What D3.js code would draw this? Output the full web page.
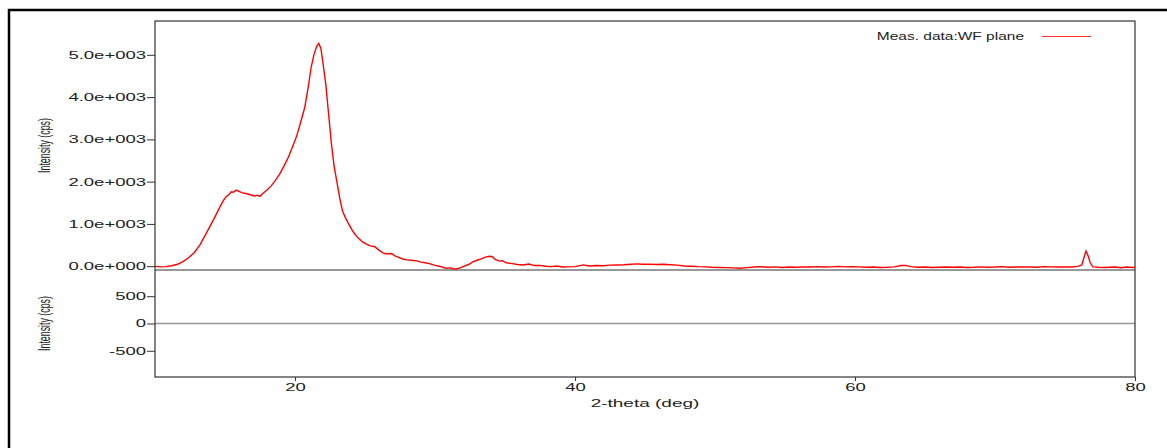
<!DOCTYPE html>
<html>
<head>
<meta charset="utf-8">
<script src="https://cdn.jsdelivr.net/npm/d3@7"></script>
<style>
  body { margin: 0; background: #fff; }
  text { font-family: "Liberation Sans", Arial, sans-serif; fill: #222; }
</style>
</head>
<body>
<div id="chart"></div>
<script>
// Measured XRD pattern (2-theta in deg, intensity in cps)
var twoTheta = [
  10.0, 10.4, 10.8, 11.2, 11.6, 12.0, 12.4, 12.8, 13.2, 13.6, 14.0, 14.3, 14.6, 14.9,
  15.1, 15.3, 15.45, 15.6, 15.8, 16.0, 16.2, 16.5, 16.8, 17.1, 17.3, 17.5, 17.7, 18.0,
  18.3, 18.6, 18.9, 19.2, 19.5, 19.8, 20.1, 20.4, 20.7, 20.95, 21.15, 21.35, 21.55, 21.7,
  21.85, 22.0, 22.2, 22.4, 22.6, 22.8, 23.0, 23.2, 23.4, 23.6, 23.8, 24.0, 24.2, 24.5,
  24.8, 25.1, 25.4, 25.7, 26.0, 26.3, 26.6, 26.9, 27.1, 27.4, 27.7, 28.0, 28.3, 28.7,
  29.0, 29.3, 29.6, 30.0, 30.3, 30.6, 30.8, 31.1, 31.3, 31.5, 31.8, 32.1, 32.4, 32.7,
  33.0, 33.3, 33.6, 33.9, 34.1, 34.3, 34.6, 34.8, 35.1, 35.5, 35.9, 36.3, 36.7, 37.1,
  37.5, 37.9, 38.3, 38.7, 39.1, 39.5, 40.0, 40.6, 41.0, 41.5, 42.0, 42.5, 43.0, 43.5,
  44.0, 44.4, 44.8, 45.3, 45.8, 46.3, 46.8, 47.3, 47.8, 48.3, 48.8, 49.3, 49.8, 50.3,
  50.8, 51.3, 51.8, 52.3, 52.8, 53.3, 53.8, 54.3, 54.8, 55.3, 55.8, 56.3, 56.8, 57.3,
  57.8, 58.3, 58.8, 59.3, 59.8, 60.3, 60.8, 61.3, 61.8, 62.3, 62.8, 63.3, 63.6, 64.0,
  64.5, 65.0, 65.5, 66.0, 66.5, 67.0, 67.5, 68.0, 68.5, 69.0, 69.5, 70.0, 70.5, 71.0,
  71.5, 72.0, 72.5, 73.0, 73.5, 74.0, 74.5, 75.0, 75.5, 75.9, 76.2, 76.35, 76.5, 76.65,
  76.8, 77.0, 77.4, 77.8, 78.2, 78.6, 79.0, 79.4, 79.8, 80.0
];
var intensity = [
  -5, -15, -10, 10, 45, 110, 200, 320, 500, 740, 990, 1180, 1380, 1560,
  1650, 1700, 1760, 1750, 1800, 1770, 1740, 1720, 1690, 1660, 1680, 1650, 1720, 1800,
  1900, 2030, 2180, 2360, 2560, 2800, 3060, 3400, 3760, 4250, 4700, 5000, 5200, 5270,
  5150, 4800, 4300, 3600, 2900, 2350, 1980, 1600, 1300, 1150, 1020, 900, 790, 670,
  580, 520, 480, 460, 380, 310, 290, 300, 250, 210, 170, 150, 140, 125,
  95, 80, 60, 20, 0, -30, -50, -40, -60, -65, -40, 0, 40, 100,
  140, 175, 215, 235, 225, 160, 120, 130, 80, 60, 40, 30, 50, 15,
  20, 0, -10, 5, -20, -15, -10, 30, 5, 15, 10, 25, 30, 35,
  45, 55, 45, 50, 40, 45, 35, 25, 5, 0, -10, -15, -25, -30,
  -35, -40, -50, -35, -20, -10, -25, -15, -30, -20, -25, -15, -20, -10,
  -20, -15, -5, -15, -10, -15, -25, -20, -30, -25, -15, 15, 20, -10,
  -25, -20, -30, -25, -20, -25, -20, -30, -25, -15, -25, -20, -10, -25,
  -20, -15, -20, -25, -10, -15, -20, -15, -20, -5, 30, 200, 360, 250,
  80, -15, -25, -30, -25, -20, -35, -20, -30, -25
];
var xTicks = [20, 40, 60, 80];
var upperTicks = [0, 1000, 2000, 3000, 4000, 5000];
var lowerTicks = [-500, 0, 500];
var legendLabel = "Meas. data:WF plane";

var width = 1167, height = 448;
var plotLeft = 155, plotRight = 1135, plotTop = 21, plotMid = 270, plotBottom = 377;

var svg = d3.select('#chart').append('svg')
    .attr('width', width)
    .attr('height', height);

// outer frame (runs off the picture on the right and bottom)
svg.append('rect')
    .attr('x', 9).attr('y', 10)
    .attr('width', 1200).attr('height', 500)
    .attr('fill', 'none')
    .attr('stroke', '#000')
    .attr('stroke-width', 2.5);

var x = d3.scaleLinear().domain([10, 80]).range([plotLeft, plotRight]);
var yUp = d3.scaleLinear().domain([-90, 5800]).range([plotMid, plotTop]);
var yLow = d3.scaleLinear().domain([-980, 980]).range([plotBottom, plotMid]);

var data = twoTheta.map((t, i) => ({ t: t, v: intensity[i] }));

// zero line of lower panel
svg.append('line')
    .attr('x1', plotLeft).attr('x2', plotRight)
    .attr('y1', yLow(0)).attr('y2', yLow(0))
    .attr('stroke', '#999')
    .attr('stroke-width', 1.5);

// frames
svg.append('rect')
    .attr('x', plotLeft).attr('y', plotTop)
    .attr('width', plotRight - plotLeft).attr('height', plotBottom - plotTop)
    .attr('fill', 'none')
    .attr('stroke', '#333')
    .attr('stroke-width', 1.2);
svg.append('line')
    .attr('x1', plotLeft).attr('x2', plotRight)
    .attr('y1', plotMid).attr('y2', plotMid)
    .attr('stroke', '#333')
    .attr('stroke-width', 1.2);

// curve
svg.append('path')
    .datum(data)
    .attr('fill', 'none')
    .attr('stroke', '#ff0000')
    .attr('stroke-width', 1.4)
    .attr('d', d3.line().x(d => x(d.t)).y(d => yUp(d.v)));

function styleAxis(g) {
    g.select('.domain').remove();
    g.selectAll('line').attr('stroke', '#333');
    g.selectAll('text')
        .attr('font-size', 10)
        .attr('fill', '#222')
        .attr('font-family', '"Liberation Sans", Arial, sans-serif');
}

var upFmt = v => v === 0 ? '0.0e+000' : (v / 1000).toFixed(1) + 'e+003';

var gUp = svg.append('g')
    .attr('transform', `translate(${plotLeft},0)`)
    .call(d3.axisLeft(yUp).tickValues(upperTicks).tickFormat(upFmt).tickSize(8).tickSizeOuter(0));
styleAxis(gUp);
gUp.selectAll('text')
    .attr('x', -9 / 1.85)
    .attr('dy', '0.34em')
    .attr('transform', 'scale(1.85,1)');

var gLow = svg.append('g')
    .attr('transform', `translate(${plotLeft},0)`)
    .call(d3.axisLeft(yLow).tickValues(lowerTicks).tickFormat(v => String(v)).tickSize(8).tickSizeOuter(0));
styleAxis(gLow);
gLow.selectAll('text')
    .attr('x', -9 / 1.85)
    .attr('dy', '0.34em')
    .attr('transform', 'scale(1.85,1)');

var gX = svg.append('g')
    .attr('transform', `translate(0,${plotBottom})`)
    .call(d3.axisBottom(x).tickValues(xTicks).tickSize(4).tickSizeOuter(0));
styleAxis(gX);
gX.selectAll('text')
    .attr('y', 14)
    .attr('dy', 0)
    .attr('transform', 'scale(1.85,1)');

// axis titles
svg.append('text')
    .attr('transform', `translate(${(plotLeft + plotRight) / 2},407) scale(1.9,1)`)
    .attr('text-anchor', 'middle')
    .attr('font-size', 10)
    .text('2-theta (deg)');

[[plotTop, plotMid], [plotMid, plotBottom]].forEach(function(p) {
    svg.append('text')
        .attr('transform', `translate(50,${(p[0] + p[1]) / 2}) rotate(-90) scale(0.52,1)`)
        .attr('text-anchor', 'middle')
        .attr('font-size', 17)
        .text('Intensity (cps)');
});

// legend
svg.append('text')
    .attr('transform', 'translate(1024,40) scale(1.55,1)')
    .attr('text-anchor', 'end')
    .attr('font-size', 10)
    .text(legendLabel);
svg.append('line')
    .attr('x1', 1042).attr('x2', 1091)
    .attr('y1', 36.5).attr('y2', 36.5)
    .attr('stroke', '#ff3030')
    .attr('stroke-width', 1);
</script>
</body>
</html>
